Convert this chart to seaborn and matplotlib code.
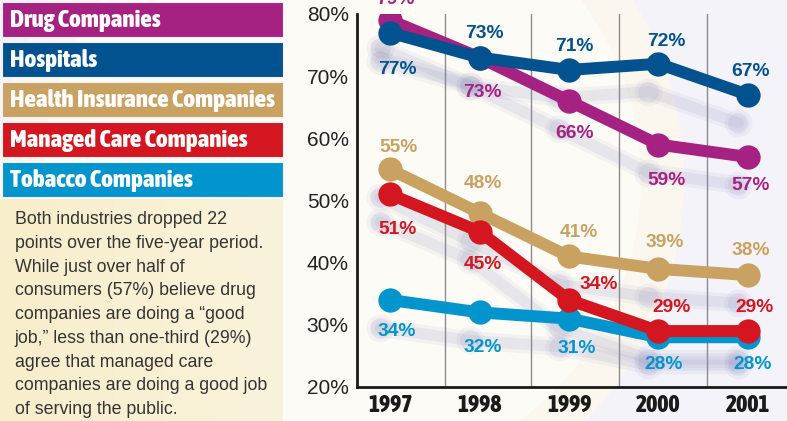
import numpy as np
import pandas as pd
import matplotlib
matplotlib.use("Agg")
import matplotlib.pyplot as plt
import matplotlib.transforms as mtransforms
from matplotlib.patches import Rectangle, Circle
from matplotlib.colors import LinearSegmentedColormap
from matplotlib import font_manager as fm
import seaborn as sns

# ---------------- data ----------------
years = [1997, 1998, 1999, 2000, 2001]
series_names = ["Drug Companies", "Hospitals", "Health Insurance Companies",
                "Managed Care Companies", "Tobacco Companies"]
drug = [79, 73, 66, 59, 57]
hospitals = [77, 73, 71, 72, 67]
health_ins = [55, 48, 41, 39, 38]
managed_care = [51, 45, 34, 29, 29]
tobacco = [34, 32, 31, 28, 28]
y_ticks = [20, 30, 40, 50, 60, 70, 80]
note_text = ("Both industries dropped 22\n"
             "points over the five-year period.\n"
             "While just over half of\n"
             "consumers (57%) believe drug\n"
             "companies are doing a \u201cgood\n"
             "job,\u201d less than one-third (29%)\n"
             "agree that managed care\n"
             "companies are doing a good job\n"
             "of serving the public.")

values = [drug, hospitals, health_ins, managed_care, tobacco]
df = pd.DataFrame({
    "year": np.tile(years, len(series_names)),
    "pct": np.concatenate(values),
    "series": np.repeat(series_names, len(years)),
})

# ---------------- style ----------------
colors = {
    "Drug Companies": "#a62282",
    "Hospitals": "#02528f",
    "Health Insurance Companies": "#c9a262",
    "Managed Care Companies": "#d3161f",
    "Tobacco Companies": "#0295cd",
}
zorders = {"Drug Companies": 4, "Hospitals": 5, "Health Insurance Companies": 4,
           "Managed Care Companies": 5, "Tobacco Companies": 4}
# label offsets in pixels (dx right, dy down)
label_offsets = {
    "Drug Companies": [(5, -21), (3, 35), (5, 32), (8, 36), (3, 29)],
    "Hospitals": [(7, 37), (5, -24), (5, -23), (8, -22), (3, -23)],
    "Health Insurance Companies": [(8, -22), (3, -29), (10, -24), (6, -26), (3, -25)],
    "Managed Care Companies": [(7, 35), (3, 33), (30, -15), (13, -24), (7, -24)],
    "Tobacco Companies": [(7, 32), (3, 35), (8, 30), (5, 27), (5, 27)],
}
year_label_shift_px = [11, 9, 7, 5, 1]

sns.set_theme(style="white")
plt.rcParams["font.family"] = ["Liberation Sans", "DejaVu Sans"]


def pick_condensed():
    cands = []
    for f in fm.fontManager.ttflist:
        nm = f.name
        st = str(f.stretch)
        cond = ("Condensed" in nm or "Narrow" in nm or st in ("condensed", "semi-condensed",
                "extra-condensed") or (st.isdigit() and int(st) < 500))
        if cond:
            w = f.weight if isinstance(f.weight, int) else {"bold": 700, "heavy": 800,
                                                          "black": 900}.get(str(f.weight), 400)
            cands.append((abs(w - 800), f.fname))
    if cands:
        cands.sort()
        return fm.FontProperties(fname=cands[0][1])
    return None


COND_FP = pick_condensed()


def cond_font(size):
    if COND_FP is not None:
        fp = COND_FP.copy()
        fp.set_size(size)
        return fp
    fp = fm.FontProperties(family=["Roboto", "DejaVu Sans"], weight="bold", size=size * 0.93)
    return fp


W, H = 787, 421
fig = plt.figure(figsize=(W / 100, H / 100), dpi=100)
fig.patch.set_facecolor("#f4f3fa")

# background axes in pixel coordinates
bg = fig.add_axes([0, 0, 1, 1], zorder=0)
bg.set_xlim(0, W)
bg.set_ylim(H, 0)
bg.axis("off")
bg.add_patch(Circle((341, 180), 343, facecolor="#fbf7ee", edgecolor="none", zorder=0))
bg.add_patch(Circle((341, 180), 300, facecolor="#fdfbf6", edgecolor="none", zorder=0))
grad = np.linspace(0, 1, 200).reshape(1, -1)
cmap = LinearSegmentedColormap.from_list("p", ["#f8eecb", "#faf3dc"])
bg.imshow(grad, extent=(0, 283, H, 199), cmap=cmap, aspect="auto", zorder=1)

# legend boxes
for i, name in enumerate(series_names):
    top = 2 + i * 40
    bg.add_patch(Rectangle((2, top), 281, 35, facecolor=colors[name],
                           edgecolor="#f2f0f4", linewidth=0.8, zorder=2))
    bg.text(10, top + 18, name, color="white", fontproperties=cond_font(18),
            ha="left", va="center", zorder=3)

bg.text(15, 211, note_text, fontsize=12.8, color="#333333", ha="left", va="top",
        linespacing=1.52, zorder=3)

# ---------------- main chart ----------------
ax = fig.add_axes([357 / W, 1 - 387 / H, (W - 357) / W, (387 - 14) / H], zorder=2)
ax.patch.set_alpha(0)
x0 = years[0]
ax.set_xlim(x0 - 0.369, x0 + 4.436)
ax.set_ylim(20, 80)

shadow_tr = mtransforms.offset_copy(ax.transData, fig=fig, x=-10, y=-28, units="dots")
for name in series_names:
    sub = df[df.series == name]
    for lw, ms, al in [(13, 20, 0.08), (8, 15, 0.12)]:
        ax.plot(sub.year, sub.pct, color="#8a8ab8", alpha=al, lw=lw, marker="o",
                markersize=ms, markeredgewidth=0, solid_capstyle="round",
                transform=shadow_tr, zorder=1)

for name in series_names:
    sub = df[df.series == name]
    sns.lineplot(x=sub.year, y=sub.pct, ax=ax, color=colors[name], lw=8.6,
                 marker="o", markersize=17.5, markeredgewidth=0, zorder=zorders[name],
                 solid_capstyle="round", legend=False)
    for (yr, v), (dx, dy) in zip(zip(sub.year, sub.pct), label_offsets[name]):
        ax.annotate(f"{v}%", (yr, v), xytext=(dx * 0.72, -dy * 0.72),
                    textcoords="offset points", ha="center", va="center",
                    fontsize=13.8, fontweight="bold", color=colors[name],
                    zorder=6, annotation_clip=False)

ax.set_xlabel("")
ax.set_ylabel("")
ax.set_xticks(years)
ax.set_xticklabels([str(y) for y in years], fontproperties=cond_font(17), color="#1a1a1a")
for lab, sh in zip(ax.get_xticklabels(), year_label_shift_px):
    lab.set_transform(lab.get_transform() +
                      mtransforms.ScaledTranslation(sh / 100, 0, fig.dpi_scale_trans))
ax.set_yticks(y_ticks)
ax.set_yticklabels([f"{t}%" for t in y_ticks], fontsize=15, color="#222222")
ax.set_xticks([x0 + 0.61, x0 + 1.58, x0 + 2.56, x0 + 3.54], minor=True)
ax.grid(False)
ax.grid(which="minor", axis="x", color="#8c8c8c", lw=1.0)
ax.set_axisbelow(True)
ax.tick_params(axis="x", which="both", length=0, pad=5)
ax.tick_params(axis="y", direction="in", length=6, width=1.6, color="#1a1a1a", pad=6)
for s in ["top", "right"]:
    ax.spines[s].set_visible(False)
for s in ["left", "bottom"]:
    ax.spines[s].set_color("#1a1a1a")
    ax.spines[s].set_linewidth(2)

fig.savefig("out.png", dpi=100, facecolor=fig.get_facecolor())
